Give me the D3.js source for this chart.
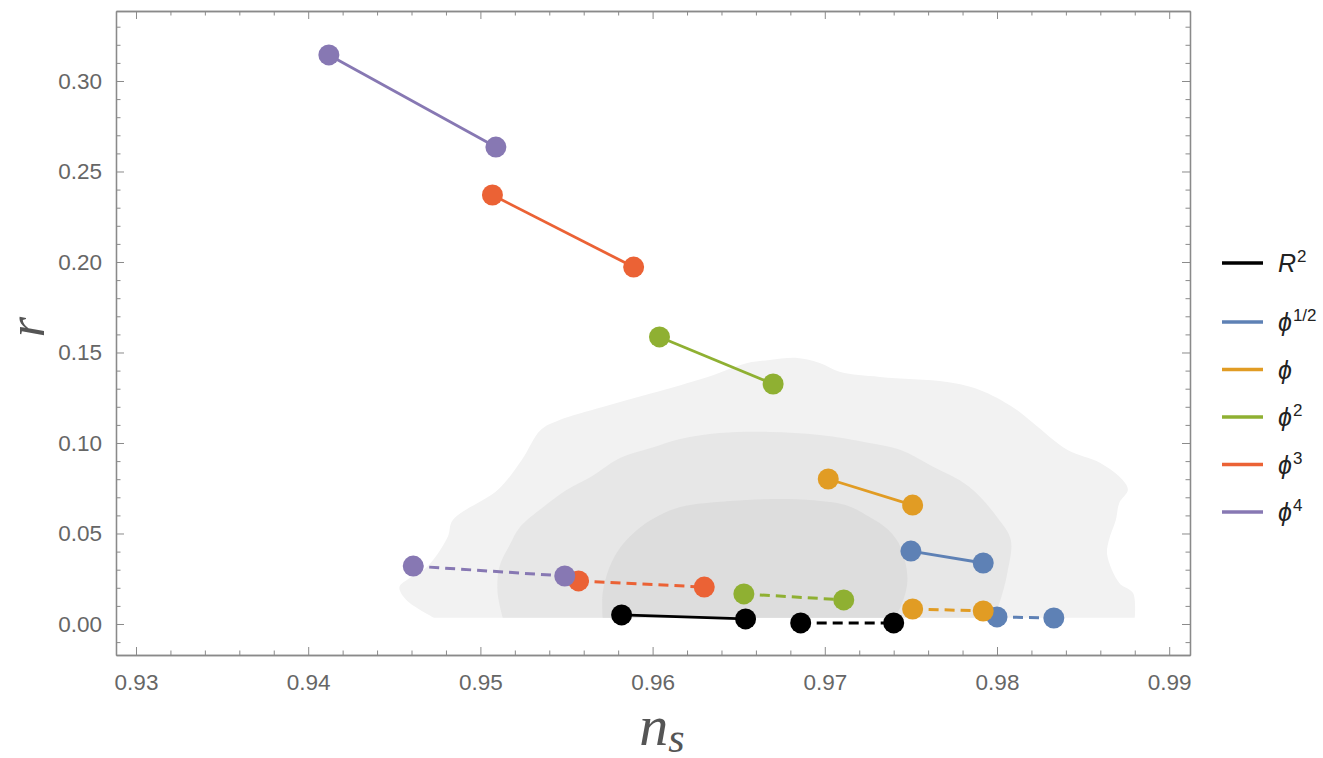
<!DOCTYPE html>
<html>
<head>
<meta charset="utf-8">
<script src="https://cdn.jsdelivr.net/npm/d3@7"></script>
<style>
  body { margin: 0; background: #fff; }
  #chart { width: 1323px; height: 758px; }
</style>
</head>
<body>
<div id="chart"></div>
<script>
// series, in drawing order
const seriesLabels = [['R', '2'], ['\u03d5', '1/2'], ['\u03d5', ''], ['\u03d5', '2'], ['\u03d5', '3'], ['\u03d5', '4']];
const seriesColors = ['#000000', '#5e81b5', '#e19c24', '#8fb032', '#eb6235', '#8778b3'];

// solid segments (start, end)
const solidNs = [[0.9582, 0.9654], [0.9750, 0.9792], [0.9702, 0.9751], [0.9604, 0.9670], [0.9507, 0.9589], [0.9412, 0.9509]];
const solidR  = [[0.0050, 0.0028], [0.0403, 0.0337], [0.0801, 0.0657], [0.1586, 0.1326], [0.2370, 0.1972], [0.3144, 0.2635]];
// dashed segments
const dashedNs = [[0.9686, 0.9740], [0.9800, 0.9833], [0.9751, 0.9792], [0.9653, 0.9711], [0.9557, 0.9630], [0.9461, 0.9549]];
const dashedR  = [[0.0006, 0.0006], [0.0039, 0.0033], [0.0083, 0.0072], [0.0166, 0.0133], [0.0238, 0.0204], [0.0320, 0.0265]];

// confidence regions [ns, r], outer to inner
const outerRegion = [[0.9473,0.0035],[0.9457,0.0133],[0.9453,0.0204],[0.9459,0.0254],[0.9469,0.0315],[0.9481,0.0481],[0.9484,0.0575],[0.9510,0.0740],[0.9524,0.0906],[0.9535,0.1072],[0.9546,0.1127],[0.9571,0.1199],[0.9600,0.1276],[0.9632,0.1365],[0.9655,0.1442],[0.9668,0.1459],[0.9684,0.1470],[0.9697,0.1442],[0.9709,0.1392],[0.9732,0.1365],[0.9771,0.1337],[0.9790,0.1293],[0.9809,0.1199],[0.9821,0.1110],[0.9841,0.0961],[0.9860,0.0890],[0.9873,0.0796],[0.9876,0.0740],[0.9871,0.0669],[0.9869,0.0575],[0.9865,0.0464],[0.9864,0.0381],[0.9871,0.0227],[0.9879,0.0171],[0.9880,0.0035]];
const middleRegion = [[0.9513,0.0035],[0.9510,0.0171],[0.9511,0.0315],[0.9517,0.0436],[0.9523,0.0536],[0.9538,0.0657],[0.9550,0.0740],[0.9565,0.0818],[0.9581,0.0917],[0.9599,0.0972],[0.9616,0.1022],[0.9639,0.1055],[0.9668,0.1061],[0.9697,0.1044],[0.9726,0.1000],[0.9744,0.0961],[0.9761,0.0878],[0.9784,0.0757],[0.9800,0.0591],[0.9808,0.0464],[0.9806,0.0282],[0.9802,0.0133],[0.9798,0.0035]];
const innerRegion = [[0.9571,0.0035],[0.9571,0.0171],[0.9575,0.0315],[0.9581,0.0420],[0.9589,0.0503],[0.9599,0.0575],[0.9616,0.0646],[0.9645,0.0680],[0.9674,0.0691],[0.9691,0.0685],[0.9712,0.0657],[0.9726,0.0591],[0.9737,0.0519],[0.9744,0.0425],[0.9748,0.0243],[0.9744,0.0094],[0.9740,0.0035]];
const regionFills = ['#f2f2f2', '#e7e7e7', '#dddddd'];

// ticks
const xMajor = [0.93, 0.94, 0.95, 0.96, 0.97, 0.98, 0.99];
const yMajor = [0.00, 0.05, 0.10, 0.15, 0.20, 0.25, 0.30];

const width = 1323, height = 758;
const plotL = 116, plotR = 1190, plotT = 11, plotB = 655;

const svg = d3.select('#chart').append('svg')
    .attr('width', width)
    .attr('height', height);

const x = d3.scaleLinear().domain([0.928839, 0.991208]).range([plotL, plotR]);
const y = d3.scaleLinear().domain([-0.01713, 0.33867]).range([plotB, plotT]);

const xMinor = d3.range(0.93, 0.9911, 0.002).filter(v => !xMajor.some(m => Math.abs(m - v) < 1e-6));
const yMinor = d3.range(-0.01, 0.3381, 0.01).filter(v => !yMajor.some(m => Math.abs(m - v) < 1e-6));

// regions
const area = d3.line().x(d => x(d[0])).y(d => y(d[1])).curve(d3.curveCatmullRom.alpha(0.5));
[outerRegion, middleRegion, innerRegion].forEach((reg, i) => {
  svg.append('path')
    .attr('d', area(reg) + 'Z')
    .attr('fill', regionFills[i]);
});

// frame + ticks
const frameColor = '#8a8a8a';
function addAxis(axisFn, scale, vals, size, transform, labels) {
  const g = svg.append('g')
    .attr('transform', transform)
    .call(axisFn(scale).tickValues(vals).tickSize(size).tickSizeOuter(0)
      .tickFormat(labels ? labels : ''));
  g.select('.domain').attr('stroke', frameColor).attr('stroke-width', 1.3);
  g.selectAll('.tick line').attr('stroke', frameColor).attr('stroke-width', 1);
  g.selectAll('.tick text')
    .attr('fill', '#666')
    .style('font-family', '"Liberation Sans", Arial, sans-serif')
    .style('font-size', '22.5px');
  return g;
}
const fmt2 = d3.format('.2f');
addAxis(d3.axisBottom, x, xMajor, -8, `translate(0,${plotB})`, fmt2)
  .selectAll('.tick text').attr('y', 19);
addAxis(d3.axisBottom, x, xMinor, -4.5, `translate(0,${plotB})`);
addAxis(d3.axisTop, x, xMajor, -8, `translate(0,${plotT})`);
addAxis(d3.axisTop, x, xMinor, -4.5, `translate(0,${plotT})`);
addAxis(d3.axisLeft, y, yMajor, -8, `translate(${plotL},0)`, fmt2)
  .selectAll('.tick text').attr('x', -14);
addAxis(d3.axisLeft, y, yMinor, -4.5, `translate(${plotL},0)`);
addAxis(d3.axisRight, y, yMajor, -8, `translate(${plotR},0)`);
addAxis(d3.axisRight, y, yMinor, -4.5, `translate(${plotR},0)`);

// segments
const seg = d3.line().x(d => x(d[0])).y(d => y(d[1]));
seriesColors.forEach((c, i) => {
  const groups = [
    { ns: solidNs[i], r: solidR[i], dash: null },
    { ns: dashedNs[i], r: dashedR[i], dash: '10,6' }
  ];
  groups.forEach(gp => {
    const pts = gp.ns.map((v, k) => [v, gp.r[k]]);
    svg.append('path')
      .attr('d', seg(pts))
      .attr('fill', 'none')
      .attr('stroke', c)
      .attr('stroke-width', gp.dash ? 3 : 2.8)
      .attr('stroke-dasharray', gp.dash);
    svg.selectAll(null)
      .data(pts)
      .join('circle')
        .attr('cx', d => x(d[0]))
        .attr('cy', d => y(d[1]))
        .attr('r', 10.5)
        .attr('fill', c);
  });
});

// legend
const legend = svg.append('g').attr('transform', 'translate(1222,0)');
seriesLabels.forEach((lab, i) => {
  const ly = i === 0 ? 263 : 322 + (i - 1) * 47.5;
  legend.append('line')
    .attr('x1', 0).attr('x2', 41)
    .attr('y1', ly).attr('y2', ly)
    .attr('stroke', seriesColors[i])
    .attr('stroke-width', 3.5);
  const t = legend.append('text')
    .attr('x', 56).attr('y', ly + 9)
    .attr('fill', '#222')
    .style('font-family', '"Liberation Sans", Arial, sans-serif')
    .style('font-size', '25px');
  t.append('tspan').style('font-style', 'italic').text(lab[0]);
  if (lab[1]) {
    t.append('tspan')
      .attr('dy', -10)
      .attr('dx', 1)
      .style('font-size', '17px')
      .text(lab[1]);
  }
});

// axis titles
svg.append('text')
  .attr('transform', 'translate(44,327) rotate(-90)')
  .attr('text-anchor', 'middle')
  .attr('fill', '#555')
  .style('font-family', '"Liberation Serif", "Times New Roman", serif')
  .style('font-style', 'italic')
  .style('font-size', '52px')
  .text('r');

const xt = svg.append('text')
  .attr('x', 662).attr('y', 745)
  .attr('text-anchor', 'middle')
  .attr('fill', '#555')
  .style('font-family', '"Liberation Serif", "Times New Roman", serif')
  .style('font-style', 'italic')
  .style('font-size', '58px');
xt.append('tspan').text('n');
xt.append('tspan').attr('dy', 7).style('font-size', '42px').text('s');
</script>
</body>
</html>
